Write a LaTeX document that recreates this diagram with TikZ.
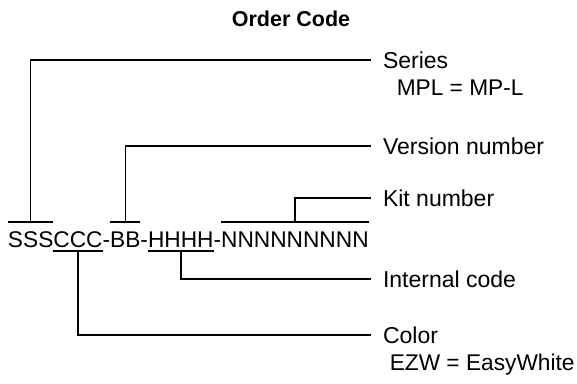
\documentclass[tikz,border=0pt]{standalone}
\usepackage{fontspec}
\setmainfont{Liberation Sans}
\usepackage{tikz}
\usetikzlibrary{positioning}

\tikzset{
    codepart/.style={
        inner sep=0pt,
        outer sep=0pt,
        text height=25pt,
        text depth=4pt,
        font=\fontsize{22.7}{27}\selectfont
    },
    lbl/.style={
        anchor=west,
        inner xsep=12pt,
        inner ysep=0pt,
        outer sep=0pt,
        text height=16pt,
        text depth=0pt,
        font=\fontsize{23}{28}\selectfont
    },
    sublbl/.style={
        anchor=base west,
        inner sep=0pt,
        font=\fontsize{22.7}{28}\selectfont
    }
}

\begin{document}
\begin{tikzpicture}[
    x=1pt,
    y=-1pt,
    line width=1.5pt
]
                \useasboundingbox (0,0) rectangle (577,383);

                \node[
                    anchor=base,
                    inner sep=0pt,
                    font=\bfseries\fontsize{21.5}{26}\selectfont
                ] (title) at (291,26) {Order Code};

                \node[codepart, anchor=base west] (sss) at (8,247) {SSS};
                \node[codepart, right=0pt of sss] (ccc) {CCC};
                \node[codepart, right=0pt of ccc] (dasha) {-};
                \node[codepart, right=0pt of dasha] (bb) {BB};
                \node[codepart, right=0pt of bb] (dashb) {-};
                \node[codepart, right=0pt of dashb] (hhhh) {HHHH};
                \node[codepart, right=0pt of hhhh] (dashc) {-};
                \node[codepart, right=0pt of dashc] (nnn) {NNNNNNNNN};

                \node[lbl] (series) at (371,60) {Series};
                \node[sublbl] (mpl) at (396,95) {MPL = MP-L};
                \node[lbl] (version) at (371,146) {Version number};
                \node[lbl] (kit) at (371,198) {Kit number};
                \node[lbl] (internal) at (371,279) {Internal code};
                \node[lbl] (color) at (371,335) {Color};
                \node[sublbl] (ezw) at (389,370) {EZW = EasyWhite};

                \draw (sss.north west) -- (sss.north east);
                \draw (bb.north west) -- (bb.north east);
                \draw (nnn.north west) -- (nnn.north east);
                \draw (ccc.south west) -- (ccc.south east);
                \draw (hhhh.south west) -- (hhhh.south east);

                \draw (sss.north) |- (series.west);
                \draw (bb.north) |- (version.west);
                \draw (nnn.north) |- (kit.west);
                \draw (hhhh.south) |- (internal.west);
                \draw (ccc.south) |- (color.west);

             \end{tikzpicture}
\end{document}
